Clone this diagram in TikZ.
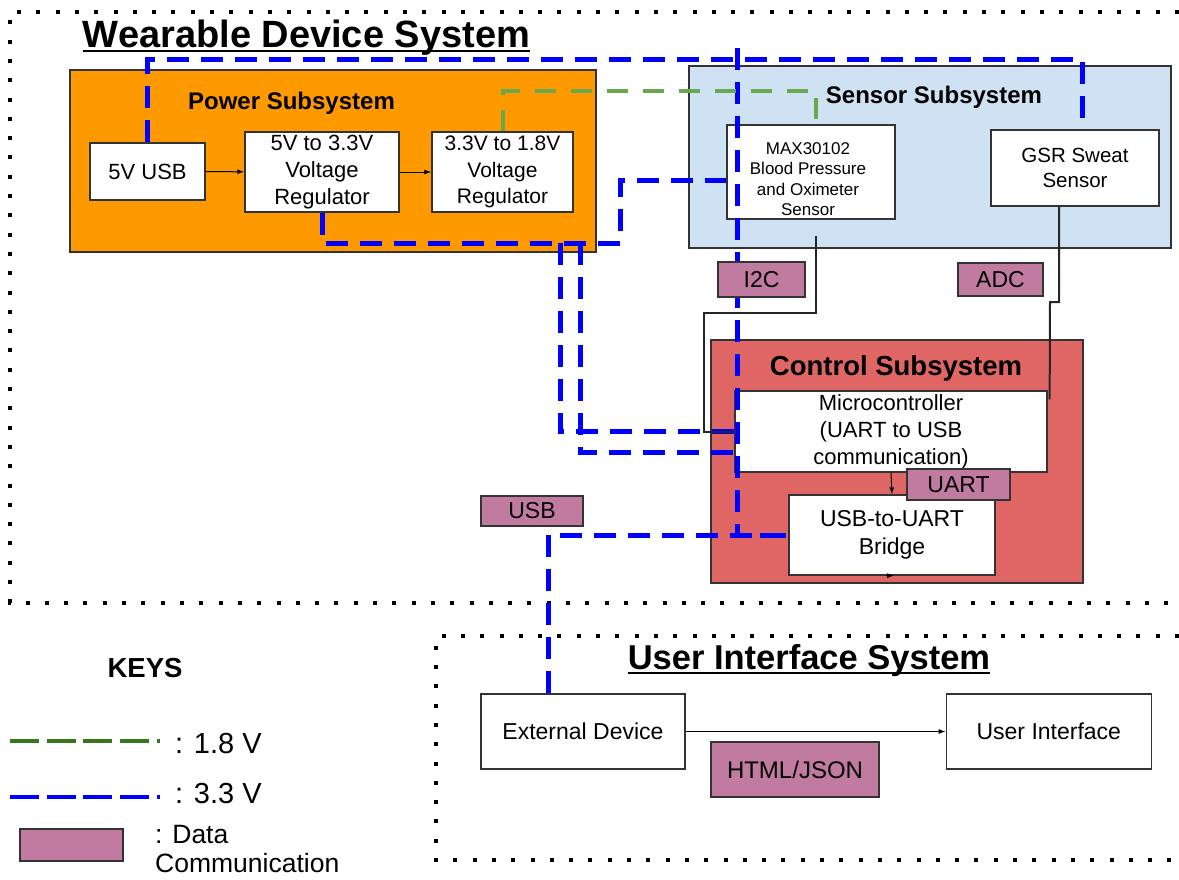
\documentclass[tikz,border=0pt]{standalone}
\usepackage{fontspec}
\setmainfont{Liberation Sans}
\usepackage{tikz}
\usetikzlibrary{arrows.meta,positioning}
\definecolor{power-orange}{HTML}{FF9900}
\definecolor{sensor-blue}{HTML}{CFE2F3}
\definecolor{control-red}{HTML}{E06666}
\definecolor{data-pink}{HTML}{C27BA0}
\definecolor{rail-blue}{HTML}{0000FF}
\definecolor{rail-green}{HTML}{6AA84F}
\definecolor{key-green}{HTML}{38761D}
\tikzset{
    sub-box/.style = {draw=black!80, line width=1.5pt, rectangle, inner sep=0pt},
    sub-title/.style = {inner sep=0pt, font=\fontsize{24}{28}\selectfont\bfseries},
    part-box/.style = {draw=black!80, fill=white, line width=1.3pt, rectangle, inner sep=0pt, align=center, font=\fontsize{22}{27}\selectfont},
    data-tag/.style = {draw=black!80, fill=data-pink, line width=1.3pt, rectangle, inner sep=0pt, font=\fontsize{23}{27}\selectfont},
    sys-title/.style = {inner sep=0pt, font=\fontsize{38}{42}\selectfont\bfseries},
    sys-frame/.style = {line width=4pt, dash pattern=on 4pt off 15.3pt},
    rail-33/.style = {draw=rail-blue, line width=5pt, dash pattern=on 22pt off 12pt},
    rail-18/.style = {draw=rail-green, line width=4pt, dash pattern=on 21pt off 15pt},
    data-line/.style = {draw=black!85, line width=2pt},
    flow/.style = {draw=black, line width=1pt, -{Latex[length=7pt,width=5pt]}},
    key-text/.style = {inner sep=0pt, anchor=base west, font=\fontsize{29}{32}\selectfont},
}

\begin{document}
\begin{tikzpicture}[x=1pt, y=-1pt]
\useasboundingbox (0,0) rectangle (1179,879);

% dotted system frames
\draw[sys-frame] (1179,12) -- (10,12) -- (10,603) -- (1179,603);
\draw[sys-frame] (1179,636) -- (436,636) -- (436,860) -- (1179,860);

\node[sys-title, anchor=base] (wds-title) at (306.5,47) {Wearable Device System};
\draw[line width=2.5pt] ([yshift=-4pt]wds-title.base west) -- ([yshift=-4pt]wds-title.base east);
\node[sys-title, font=\fontsize{34.5}{40}\selectfont\bfseries, anchor=base] (uis-title) at (809,669) {User Interface System};
\draw[line width=2.5pt] ([yshift=-4pt]uis-title.base west) -- ([yshift=-4pt]uis-title.base east);

% subsystems
\node[sub-box, fill=power-orange, minimum width=526pt, minimum height=182pt] (power) at (333,161) {};
\node[sub-title] (power-title) at (291.5,103) {Power Subsystem};
\node[sub-box, fill=sensor-blue, minimum width=482pt, minimum height=182pt] (sensor) at (930,157) {};
\node[sub-title] (sensor-title) at (934,97) {Sensor Subsystem};
\node[sub-box, fill=control-red, minimum width=372pt, minimum height=243pt] (control) at (897,461.5) {};
\node[sub-title, font=\fontsize{27.5}{32}\selectfont\bfseries] (control-title) at (896,368) {Control Subsystem};

% parts
\node[part-box, minimum width=115pt, minimum height=57pt] (usb5) at (147.5,171.5) {5V USB};
\node[part-box, minimum width=154pt, minimum height=80pt] (reg33) at (322,172) {5V to 3.3V\\Voltage\\Regulator};
\node[part-box, minimum width=141pt, minimum height=80pt, font=\fontsize{21}{26.5}\selectfont] (reg18) at (502.5,172) {3.3V to 1.8V\\Voltage\\Regulator};
\node[part-box, minimum width=168pt, minimum height=94pt] (max) at (811,172) {};
\node[align=center, inner sep=0pt, font=\fontsize{17}{20.5}\selectfont] (max-text) at (808,179) {MAX30102\\Blood Pressure\\and Oximeter\\Sensor};
\node[part-box, minimum width=168pt, minimum height=76pt, font=\fontsize{20.5}{25}\selectfont] (gsr) at (1075,168) {GSR Sweat\\Sensor};
\node[part-box, minimum width=312pt, minimum height=81pt] (mcu) at (891,431.5) {Microcontroller\\(UART to USB\\communication)};
\node[part-box, minimum width=206pt, minimum height=80pt, font=\fontsize{23}{28}\selectfont] (bridge) at (892,535) {USB-to-UART\\Bridge};
\node[part-box, minimum width=204pt, minimum height=75pt, font=\fontsize{23}{28}\selectfont] (ext) at (583,731.5) {External Device};
\node[part-box, minimum width=205pt, minimum height=75pt, font=\fontsize{23}{28}\selectfont, right=260pt of ext] (ui) {User Interface};

\draw[flow] (usb5) -- (reg33);
\draw[flow] (reg33) -- (reg18);
\draw[flow] (mcu.south) -- (bridge.north);
\draw[flow] ([xshift=-6pt]bridge.south) -- ([xshift=2pt]bridge.south);
\draw[flow] (ext) -- (ui);

% 3.3 V rails
\coordinate (top-feed) at (737,48);
\coordinate (tap-a) at (560,243);
\coordinate (tap-b) at (580,243);
\draw[rail-33] (usb5.north) -- ++(0,-83) -| ([xshift=7pt]gsr.north);
\draw[rail-33] (reg33.south) |- (620,243) |- ([yshift=-8pt]max.west);
\draw[rail-33] (tap-a) |- (mcu.west);
\draw[rail-33] (tap-b) |- ([yshift=-21pt]mcu.west);
\draw[rail-33] (top-feed) |- (bridge.west);
\draw[rail-33] ([xshift=-35pt]ext.north) |- (bridge.west);

% 1.8 V rail
\draw[rail-18] (reg18.north) -- ++(0,-40) -| ([xshift=5pt]max.north);

% data lines
\draw[data-line] ([xshift=5pt,yshift=-16pt]max.south) |- (704,313) |- (mcu.west);
\draw[data-line] ([xshift=-16pt]gsr.south) |- (1050,302) -- ([xshift=2pt,yshift=-9pt]mcu.north east);

% data tags
\node[data-tag, minimum width=87pt, minimum height=35pt] (i2c) at (761.5,279.5) {I2C};
\node[data-tag, minimum width=85pt, minimum height=33pt] (adc) at (1000.5,279.5) {ADC};
\node[data-tag, minimum width=103pt, minimum height=31pt] (uart) at (958.5,484.5) {UART};
\node[data-tag, minimum width=102pt, minimum height=30pt] (usb-tag) at (532,511) {USB};
\node[data-tag, minimum width=168pt, minimum height=55pt, font=\fontsize{24}{28}\selectfont] (html) at (795,769.5) {HTML/JSON};

% keys
\node[sub-title, font=\fontsize{27.5}{30}\selectfont\bfseries] (keys) at (145,668) {KEYS};
\coordinate (key-18) at (10,741);
\coordinate (key-33) at (10,797);
\draw[line width=4pt, draw=key-green, dash pattern=on 29pt off 7.7pt] (key-18) -- ++(150,0);
\draw[line width=4pt, draw=rail-blue, dash pattern=on 29pt off 7.7pt] (key-33) -- ++(150,0);
\node[key-text] (key-18-text) at (175,753) {: 1.8 V};
\node[key-text] (key-33-text) at (175,803) {: 3.3 V};
\node[data-tag, minimum width=103pt, minimum height=32pt] (key-data) at (71.5,845) {};
\node[key-text, font=\fontsize{26.5}{32}\selectfont] (key-data-text) at (155,843) {: Data};
\node[key-text, font=\fontsize{26.5}{32}\selectfont] (key-data-text2) at (155,872) {Communication};
\end{tikzpicture}
\end{document}
